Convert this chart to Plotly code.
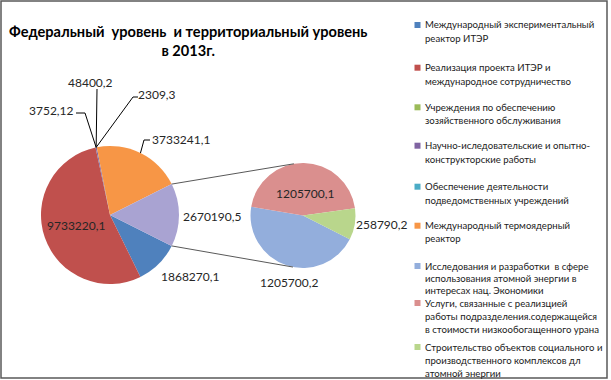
import math
import plotly.graph_objects as go

# ---------------- data ----------------
categories = [
    "Международный экспериментальный реактор ИТЭР",
    "Реализация проекта ИТЭР и международное сотрудничество",
    "Учреждения по обеспечению зозяйственного обслуживания",
    "Научно-иследовательские и опытно-конструкторские работы",
    "Обеспечение деятельности подведомственных учреждений",
    "Международный термоядерный реактор",
    "Исследования и разработки  в сфере использования атомной энергии в интересах нац. Экономики",
    "Услуги, связанные с реализцией работы подразделения.содержащейся в стоимости низкообогащенного урана",
    "Строительство объектов социального и производственного комплексов дл атомной энергии",
]
legend_lines = [
    ["Международный экспериментальный", "реактор ИТЭР"],
    ["Реализация проекта ИТЭР и", "международное сотрудничество"],
    ["Учреждения по обеспечению", "зозяйственного обслуживания"],
    ["Научно-иследовательские и опытно-", "конструкторские работы"],
    ["Обеспечение деятельности", "подведомственных учреждений"],
    ["Международный термоядерный", "реактор"],
    ["Исследования и разработки  в сфере", "использования атомной энергии в", "интересах нац. Экономики"],
    ["Услуги, связанные с реализцией", "работы подразделения.содержащейся", "в стоимости низкообогащенного урана"],
    ["Строительство объектов социального и", "производственного комплексов дл", "атомной энергии"],
]
primary_values = [1868270.1, 9733220.1, 3752.12, 48400.2, 2309.3, 3733241.1]
secondary_values = [1205700.2, 1205700.1, 258790.2]
other_value = round(sum(secondary_values), 2)

colors = ["#4F81BD", "#C0504D", "#9BBB59", "#8064A2", "#4BACC6", "#F79646",
          "#93AEDC", "#DA8F8E", "#B9D68C"]
other_color = "#A9A3D2"

title_text = "Федеральный  уровень  и территориальный уровень<br>в 2013г."

# ---------------- layout helpers ----------------
W, H = 611, 380
def px(x):
    return x / W
def py(y):
    return 1 - y / H

def fmt(v):
    s = ("%.2f" % v).rstrip("0").rstrip(".")
    return s.replace(".", ",")

L_CX, L_CY, L_R = 110, 215, 69
R_CX, R_CY, R_R = 303, 215.5, 52.5

left_vals = primary_values + [other_value]
left_total = sum(left_vals)
cum_before_other = sum(primary_values) / left_total * 360
other_deg = other_value / left_total * 360
left_rot = 90 - (cum_before_other + other_deg / 2)
right_rot = 117

def domain(cx, cy, r):
    return dict(x=[px(cx - r), px(cx + r)], y=[py(cy + r), py(cy - r)])

fig = go.Figure()
fig.add_trace(go.Pie(
    values=left_vals, labels=categories[:6] + ["Другой"],
    marker=dict(colors=colors[:6] + [other_color], line=dict(width=0)),
    sort=False, direction="clockwise", rotation=left_rot,
    textinfo="none", showlegend=False, domain=domain(L_CX, L_CY, L_R),
    hovertemplate="%{label}: %{value}<extra></extra>",
))
fig.add_trace(go.Pie(
    values=secondary_values, labels=categories[6:],
    marker=dict(colors=colors[6:], line=dict(width=0)),
    sort=False, direction="clockwise", rotation=right_rot,
    textinfo="none", showlegend=False, domain=domain(R_CX, R_CY, R_R),
    hovertemplate="%{label}: %{value}<extra></extra>",
))

shapes = []
annotations = []

def line(x0, y0, x1, y1, color="#000000", width=1):
    shapes.append(dict(type="line", xref="paper", yref="paper",
                       x0=px(x0), y0=py(y0), x1=px(x1), y1=py(y1),
                       line=dict(color=color, width=width)))

def pt(cx, cy, r, ang):
    a = math.radians(ang)
    return cx + r * math.sin(a), cy - r * math.cos(a)

# connector lines between the pies (edges of the "other" slice)
a_top = cum_before_other + left_rot
a_bot = a_top + other_deg
x0, y0 = pt(L_CX, L_CY, L_R, a_top)
x1, y1 = pt(R_CX, R_CY, R_R, 350)
line(x0, y0, x1, y1, "#595959", 1)
x0, y0 = pt(L_CX, L_CY, L_R, a_bot)
x1, y1 = pt(R_CX, R_CY, R_R, 191)
line(x0, y0, x1, y1, "#595959", 1)

# leader lines for tiny slices
cum = sum(primary_values[:2]) / left_total * 360 + left_rot
tiny = sum(primary_values[2:5]) / left_total * 360
ax, ay = pt(L_CX, L_CY, L_R, cum + tiny / 2)
line(97, 89, ax, ay)                       # 48400,2
line(76, 113, 85, 113); line(85, 113, ax, ay)   # 3752,12
line(138, 97, 133, 97); line(133, 97, ax, ay)   # 2309,3
oc = sum(primary_values[:5]) / left_total * 360 + left_rot
ox, oy = pt(L_CX, L_CY, L_R, oc + primary_values[5] / left_total * 360 / 2)
line(150, 140, 144, 140); line(144, 140, ox, oy)  # 3733241,1

label_pos = {
    0: (190, 276), 1: (76, 226), 2: (51, 110), 3: (90, 82), 4: (157, 94), 5: (181, 139),
}
lbl_font = dict(family="Lato, Carlito, sans-serif", size=12, color="#262626")
for i, (x, y) in label_pos.items():
    annotations.append(dict(x=px(x), y=py(y), xref="paper", yref="paper",
                            text=fmt(primary_values[i]), showarrow=False,
                            xanchor="center", yanchor="middle", font=lbl_font))
annotations.append(dict(x=px(212), y=py(216), xref="paper", yref="paper",
                        text=fmt(other_value), showarrow=False,
                        xanchor="center", yanchor="middle", font=lbl_font))
sec_pos = [(289, 282), (304.5, 193), (381, 225)]
for v, (x, y) in zip(secondary_values, sec_pos):
    annotations.append(dict(x=px(x), y=py(y), xref="paper", yref="paper",
                            text=fmt(v), showarrow=False,
                            xanchor="center", yanchor="middle", font=lbl_font))

# title
annotations.append(dict(x=px(187.5), y=py(21), xref="paper", yref="paper",
                        text="<b>" + title_text + "</b>", showarrow=False,
                        xanchor="center", yanchor="top", align="center",
                        font=dict(family="Lato, Carlito, sans-serif", size=14.6, color="#000000")))

# legend
leg_y = [25, 67.7, 107.3, 145.7, 186.7, 225.7, 266, 303, 347]
leg_lh = [13.3, 13.3, 13.3, 13.3, 13.3, 13.3, 12, 13.3, 13.3]
leg_font = dict(family="Lato, Carlito, sans-serif", size=9.6, color="#1a1a1a")
for i, lines in enumerate(legend_lines):
    y = leg_y[i]
    shapes.append(dict(type="rect", xref="paper", yref="paper",
                       x0=px(414.5), x1=px(420.5), y0=py(y + 3), y1=py(y - 3),
                       fillcolor=colors[i], line=dict(width=0)))
    for k, t in enumerate(lines):
        annotations.append(dict(x=px(423), y=py(y + k * leg_lh[i]), xref="paper", yref="paper",
                                text=t, showarrow=False,
                                xanchor="left", yanchor="middle", align="left",
                                font=leg_font))

# outer border
shapes.append(dict(type="rect", xref="paper", yref="paper",
                   x0=px(1), x1=px(607), y0=py(378), y1=py(1),
                   line=dict(color="#595959", width=1.5), fillcolor="rgba(0,0,0,0)"))

fig.update_layout(
    width=W, height=H, autosize=False,
    margin=dict(l=0, r=0, t=0, b=0),
    paper_bgcolor="#ffffff", plot_bgcolor="#ffffff",
    shapes=shapes, annotations=annotations, showlegend=False,
)
fig.write_html("out.html", config={"displayModeBar": False},
               post_script="document.body.style.margin='0';document.body.style.overflow='hidden';")
